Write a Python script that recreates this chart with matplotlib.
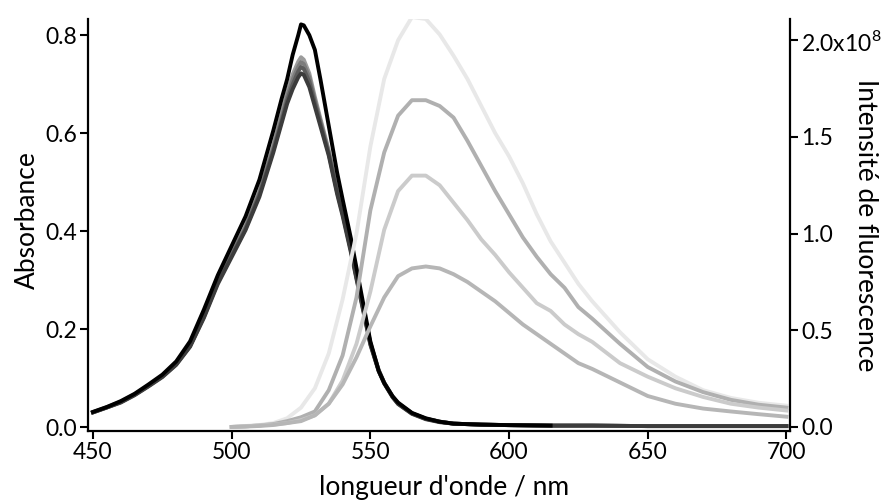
import matplotlib
matplotlib.use("Agg")
import matplotlib.pyplot as plt
from matplotlib.ticker import FixedLocator, FuncFormatter

plt.rcParams['font.family'] = ['Lato', 'DejaVu Sans']
plt.rcParams['mathtext.fontset'] = 'custom'
plt.rcParams['mathtext.rm'] = 'Lato'

# absorption spectra (nm, absorbance)
wl_abs = [450, 455, 460, 465, 470, 475, 480, 485, 490, 495, 500, 505, 510, 515, 518,
          520, 522, 524, 525, 526, 528, 530, 532, 535, 538, 540, 543, 545, 548, 550,
          553, 555, 558, 560, 565, 570, 575, 580, 590, 600, 615, 630, 650, 675, 700]

abs_g1 = [0.030, 0.040, 0.050, 0.065, 0.083, 0.102, 0.127, 0.164, 0.223, 0.292, 0.347, 0.402,
          0.470, 0.560, 0.620, 0.660, 0.690, 0.714, 0.722, 0.719, 0.694, 0.654, 0.614, 0.554,
          0.476, 0.431, 0.356, 0.302, 0.222, 0.168, 0.114, 0.089, 0.061, 0.047, 0.027, 0.016,
          0.010, 0.007, 0.005, 0.004, 0.003, 0.003, 0.002, 0.002, 0.002]
abs_g2 = [0.030, 0.040, 0.051, 0.066, 0.084, 0.103, 0.128, 0.165, 0.225, 0.295, 0.350, 0.405,
          0.475, 0.565, 0.625, 0.667, 0.700, 0.726, 0.735, 0.731, 0.705, 0.662, 0.620, 0.558,
          0.480, 0.435, 0.360, 0.305, 0.225, 0.170, 0.115, 0.090, 0.062, 0.048, 0.028, 0.017,
          0.011, 0.007, 0.005, 0.004, 0.003, 0.003, 0.002, 0.002, 0.002]
abs_g3 = [0.030, 0.040, 0.051, 0.066, 0.084, 0.104, 0.129, 0.166, 0.227, 0.297, 0.352, 0.408,
          0.478, 0.570, 0.632, 0.675, 0.710, 0.736, 0.745, 0.741, 0.714, 0.668, 0.625, 0.561,
          0.483, 0.438, 0.362, 0.307, 0.226, 0.171, 0.116, 0.090, 0.062, 0.048, 0.028, 0.017,
          0.011, 0.007, 0.005, 0.004, 0.003, 0.003, 0.002, 0.002, 0.002]
abs_g4 = [0.031, 0.041, 0.052, 0.067, 0.085, 0.105, 0.130, 0.168, 0.229, 0.300, 0.355, 0.411,
          0.482, 0.575, 0.640, 0.683, 0.720, 0.746, 0.755, 0.750, 0.722, 0.674, 0.630, 0.565,
          0.486, 0.440, 0.364, 0.309, 0.228, 0.172, 0.117, 0.091, 0.063, 0.049, 0.028, 0.017,
          0.011, 0.007, 0.005, 0.004, 0.003, 0.003, 0.002, 0.002, 0.002]
abs_black = [0.031, 0.041, 0.053, 0.068, 0.087, 0.107, 0.134, 0.175, 0.240, 0.310, 0.370, 0.430,
             0.505, 0.605, 0.670, 0.710, 0.760, 0.800, 0.822, 0.820, 0.800, 0.770, 0.710, 0.615,
             0.520, 0.465, 0.385, 0.325, 0.235, 0.175, 0.115, 0.090, 0.063, 0.050, 0.029, 0.018,
             0.011, 0.007, 0.005, 0.004, 0.003]

# emission spectra (nm, intensity in 1e8)
wl_em = [500, 505, 510, 515, 520, 525, 530, 535, 540, 545, 550, 555, 560, 565, 570, 575, 580,
         585, 590, 595, 600, 605, 610, 615, 620, 625, 630, 640, 650, 660, 670, 680, 690, 700]

em_1 = [0.0, 0.005, 0.01, 0.02, 0.045, 0.10, 0.20, 0.38, 0.66, 1.00, 1.45, 1.80, 2.00, 2.12, 2.11,
        2.03, 1.92, 1.80, 1.66, 1.52, 1.40, 1.26, 1.10, 0.96, 0.85, 0.74, 0.65, 0.49, 0.35, 0.26,
        0.19, 0.15, 0.125, 0.11]
em_2 = [0.0, 0.003, 0.008, 0.015, 0.03, 0.05, 0.08, 0.19, 0.37, 0.67, 1.12, 1.42, 1.61, 1.69,
        1.69, 1.66, 1.60, 1.48, 1.35, 1.22, 1.10, 0.98, 0.88, 0.79, 0.72, 0.62, 0.56, 0.43, 0.31,
        0.235, 0.18, 0.14, 0.115, 0.10]
em_3 = [0.0, 0.003, 0.008, 0.012, 0.02, 0.035, 0.06, 0.12, 0.24, 0.43, 0.70, 1.02, 1.22, 1.30,
        1.30, 1.25, 1.16, 1.07, 0.97, 0.89, 0.80, 0.72, 0.64, 0.60, 0.53, 0.48, 0.44, 0.33, 0.26,
        0.20, 0.155, 0.12, 0.10, 0.085]
em_4 = [0.0, 0.002, 0.005, 0.01, 0.02, 0.03, 0.06, 0.12, 0.22, 0.36, 0.52, 0.67, 0.78, 0.82,
        0.83, 0.82, 0.79, 0.75, 0.70, 0.65, 0.59, 0.53, 0.48, 0.43, 0.38, 0.33, 0.30, 0.23, 0.16,
        0.12, 0.095, 0.08, 0.066, 0.053]

W, H = 884, 503
fig = plt.figure(figsize=(W / 100, H / 100), dpi=100)
ax = fig.add_axes([88 / W, 1 - 431 / H, 702 / W, 412 / H])
ax2 = ax.twinx()

lw = 2.8
ax.plot(wl_abs, abs_g4, color='#9c9c9c', lw=lw)
ax.plot(wl_abs, abs_g3, color='#7c7c7c', lw=lw)
ax.plot(wl_abs, abs_g2, color='#5c5c5c', lw=lw)
ax.plot(wl_abs, abs_g1, color='#3c3c3c', lw=lw)
ax.plot(wl_abs[:len(abs_black)], abs_black, color='black', lw=lw)

ax2.plot(wl_em, em_1, color='#e8e8e8', lw=lw)
ax2.plot(wl_em, em_2, color='#b0b0b0', lw=lw)
ax2.plot(wl_em, em_3, color='#cbcbcb', lw=lw)
ax2.plot(wl_em, em_4, color='#b6b6b6', lw=lw)

ax.set_xlim(448.2, 701.3)
ax.set_ylim(-0.008, 0.833)
ax2.set_ylim(-0.021, 2.11)

for a in (ax, ax2):
    a.spines['top'].set_visible(False)
    for s in a.spines.values():
        s.set_linewidth(1.6)
    a.tick_params(direction='out', length=6, width=1.5, labelsize=16.5, pad=2)
ax.spines['right'].set_visible(False)
ax2.spines['left'].set_visible(False)
ax2.spines['bottom'].set_visible(False)

ax.set_xticks([450, 500, 550, 600, 650, 700])
ax.set_yticks([0.0, 0.2, 0.4, 0.6, 0.8])
ax.yaxis.set_major_formatter(FuncFormatter(lambda v, p: f"{v:.1f}"))

ax2.yaxis.set_major_locator(FixedLocator([0.0, 0.5, 1.0, 1.5, 2.0]))
def em_fmt(v, p):
    if abs(v - 2.0) < 1e-6:
        return r"2.0x10$^{8}$"
    return f"{v:.1f}"
ax2.yaxis.set_major_formatter(FuncFormatter(em_fmt))

fig.text(444 / W, 1 - 488 / H, "longueur d'onde / nm", fontsize=19, ha='center', va='center')
fig.text(27 / W, 1 - 220 / H, "Absorbance", fontsize=19, rotation=90, ha='center', va='center')
fig.text(866 / W, 1 - 225 / H, "Intensité de fluorescence", fontsize=19, rotation=270,
         ha='center', va='center')

fig.savefig("out.png", dpi=100)
